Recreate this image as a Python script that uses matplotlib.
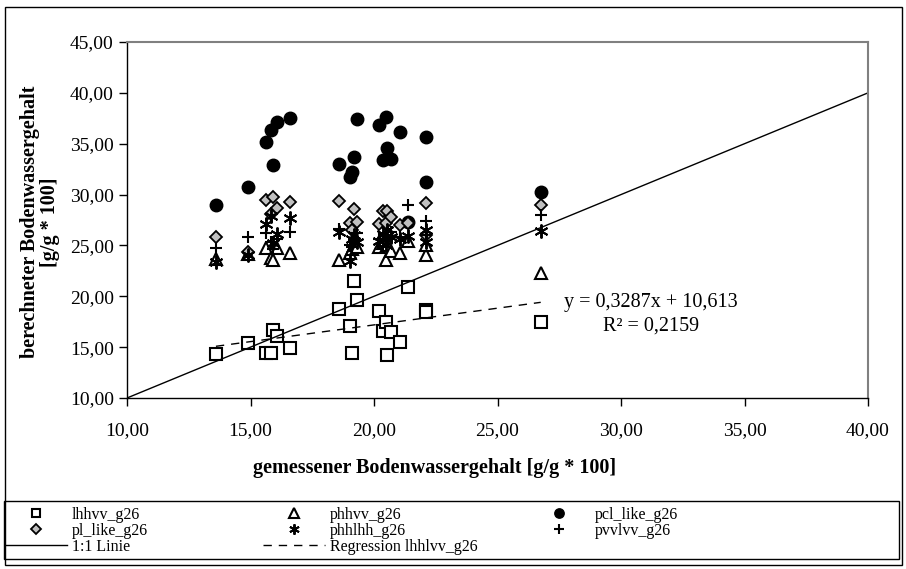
import matplotlib.pyplot as plt
from matplotlib.patches import Rectangle

plt.rcParams['font.family'] = ['Liberation Serif', 'DejaVu Serif']

# gemessener Bodenwassergehalt je Probe [g/g * 100]
gemessen = [13.60, 14.90, 15.62, 15.82, 15.90, 16.07, 16.60, 18.58, 19.03, 19.10, 19.20,
            19.30, 20.22, 20.35, 20.49, 20.52, 20.70, 21.05, 21.39, 22.10, 22.12, 26.75]

# berechnete Werte der einzelnen Ansaetze
lhhvv = [14.34, 15.45, 14.40, 14.40, 16.64, 16.11, 14.96, 18.78, 17.10, 14.47, 21.47,
         19.66, 18.51, 16.54, 17.43, 14.24, 16.44, 15.55, 20.92, 18.68, 18.41, 17.50]
phhvv = [23.70, 24.20, 24.70, 23.80, 23.60, 24.70, 24.30, 23.60, 24.30, 24.60, 25.00,
         24.80, 24.80, 25.20, 23.60, 25.00, 24.50, 24.30, 25.40, 24.10, 25.00, 22.30]
pcl_like = [29.00, 30.78, 35.18, 36.33, 32.95, 37.09, 37.48, 32.98, 31.77, 32.20, 33.74,
            37.40, 36.85, 33.40, 37.65, 34.56, 33.54, 36.13, 27.30, 35.70, 31.23, 30.25]
pl_like = [25.85, 24.40, 29.50, 28.10, 29.80, 28.70, 29.26, 29.36, 27.20, 26.50, 28.54,
           27.30, 27.10, 28.40, 27.20, 28.40, 27.80, 26.96, 27.16, 29.13, 26.00, 29.00]
phhlhh = [23.40, 24.10, 27.10, 27.90, 25.20, 26.10, 27.70, 26.30, 23.45, 25.60, 26.00,
          25.30, 25.40, 26.10, 25.00, 26.50, 25.80, 25.60, 25.90, 26.50, 25.30, 26.40]
pvvlvv = [24.76, 25.80, 26.20, 25.30, 24.60, 25.60, 26.30, 26.60, 25.00, 24.80, 25.50,
          26.20, 25.60, 24.90, 26.00, 25.40, 26.30, 25.80, 29.00, 27.40, 26.00, 27.95]

# Regression lhhvv
steigung = 0.3287
achsenabschnitt = 10.613
r2 = 0.2159

x_ticks = [10, 15, 20, 25, 30, 35, 40]
x_labels = ['10,00', '15,00', '20,00', '25,00', '30,00', '35,00', '40,00']
y_ticks = [10, 15, 20, 25, 30, 35, 40, 45]
y_labels = ['10,00', '15,00', '20,00', '25,00', '30,00', '35,00', '40,00', '45,00']

W, H = 906, 569
fig = plt.figure(figsize=(W / 100, H / 100), dpi=100)
ax = fig.add_axes([127 / W, 1 - 398 / H, 741 / W, 356 / H])

grau = '#c0c0c0'
ax.plot(gemessen, lhhvv, ls='none', marker='s', ms=8.5, mfc='white', mec='black', mew=1.5,
        label='lhhvv_g26')
ax.plot(gemessen, phhvv, ls='none', marker='^', ms=9, mfc='white', mec='black', mew=1.5,
        label='phhvv_g26')
ax.plot(gemessen, pcl_like, ls='none', marker='o', ms=9, mfc='black', mec='black', mew=1,
        label='pcl_like_g26')
ax.plot(gemessen, pl_like, ls='none', marker='D', ms=6.2, mfc=grau, mec='black', mew=1.3,
        label='pl_like_g26')
ax.plot(gemessen, phhlhh, ls='none', marker=(6, 2, 0), ms=10, mec='black', mew=1.4,
        label='phhlhh_g26')
ax.plot(gemessen, pvvlvv, ls='none', marker='+', ms=9, mec='black', mew=1.5,
        label='pvvlvv_g26')

# 1:1 Linie und Regressionsgerade
ax.plot([10, 40], [10, 40], color='black', lw=1, label='1:1 Linie')
xr = [min(gemessen), max(gemessen)]
yr = [steigung * v + achsenabschnitt for v in xr]
ax.plot(xr, yr, color='black', lw=1, dashes=(6, 5), label='Regression lhhlvv_g26')

ax.text(31.2, 18.2, 'y = 0,3287x + 10,613\nR² = 0,2159', ha='center', va='center',
        fontsize=14.5, linespacing=1.3)

ax.set_xlim(10, 40)
ax.set_ylim(10, 45)
ax.set_xticks(x_ticks)
ax.set_xticklabels(x_labels)
ax.set_yticks(y_ticks)
ax.set_yticklabels(y_labels)
ax.tick_params(direction='out', length=5.5, width=1, labelsize=14, color='black')
ax.tick_params(axis='x', pad=12)
ax.tick_params(axis='y', pad=4)
for s in ['left', 'bottom']:
    ax.spines[s].set_color('black')
    ax.spines[s].set_linewidth(1)
for s in ['top', 'right']:
    ax.spines[s].set_color('#808080')
    ax.spines[s].set_linewidth(1.5)

fig.text(435 / W, 1 - 468 / H, 'gemessener Bodenwassergehalt [g/g * 100]',
         ha='center', va='center', fontsize=14.5, fontweight='bold')
fig.text(40 / W, 1 - 222 / H, 'berechneter Bodenwassergehalt\n[g/g * 100]',
         ha='center', va='center', rotation=90, fontsize=14.5, fontweight='bold',
         linespacing=1.0)

# Legende in drei Spalten
h, l = ax.get_legend_handles_labels()
spalten = [[0, 3, 6], [1, 4, 7], [2, 5]]
x_start = [5, 263, 528]
for idx, x0 in zip(spalten, x_start):
    fig.legend([h[i] for i in idx], [l[i] for i in idx], loc='upper left',
               bbox_to_anchor=(x0 / W, 1 - 507 / H), frameon=False, fontsize=11.5,
               handlelength=3.9, handletextpad=0.3, labelspacing=0.0,
               borderpad=0, borderaxespad=0, markerscale=0.75)

fig.patches.append(Rectangle((4 / W, 1 - 559 / H), 895 / W, 58 / H, transform=fig.transFigure,
                             fill=False, ec='black', lw=1))
fig.patches.append(Rectangle((5 / W, 1 - 565 / H), 897 / W, 558 / H, transform=fig.transFigure,
                             fill=False, ec='black', lw=1))

fig.savefig('out.png', dpi=100)
